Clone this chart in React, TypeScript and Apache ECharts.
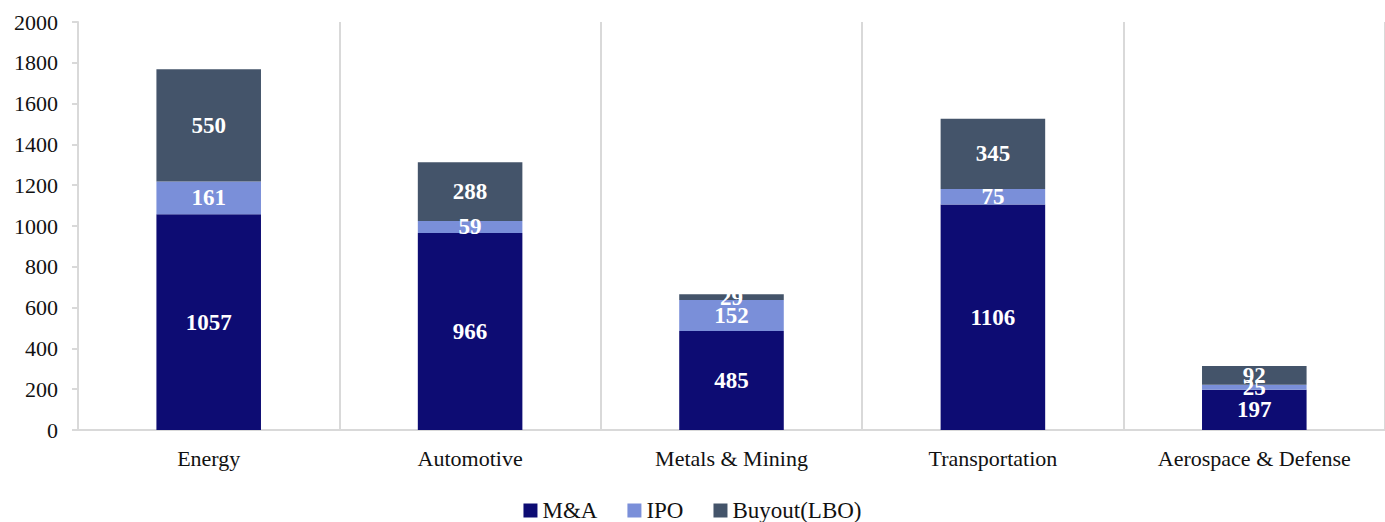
import React, { useEffect, useRef } from "react";
import * as echarts from "echarts";

const categories = ["Energy", "Automotive", "Metals & Mining", "Transportation", "Aerospace & Defense"];
const maValues = [1057, 966, 485, 1106, 197];
const ipoValues = [161, 59, 152, 75, 25];
const buyoutValues = [550, 288, 29, 345, 92];
const seriesNames = ["M&A", "IPO", "Buyout(LBO)"];
const colors = ["#0d0c73", "#7a8fd9", "#44546a"];

const FONT = "'Liberation Serif', 'Times New Roman', serif";

export default function App() {
  const ref = useRef<HTMLDivElement>(null);
  useEffect(() => {
    if (!ref.current) return;
    const chart = echarts.init(ref.current, null, { renderer: "svg" });
    const dataSets = [maValues, ipoValues, buyoutValues];
    chart.setOption({
      animation: false,
      textStyle: { fontFamily: FONT },
      grid: { left: 78, top: 22, width: 1310, height: 408, containLabel: false },
      legend: {
        top: 499,
        left: "center",
        padding: 0,
        itemWidth: 14,
        itemHeight: 14,
        itemGap: 30,
        icon: "rect",
        data: seriesNames,
        textStyle: { fontFamily: FONT, fontSize: 23, color: "#111111" },
      },
      xAxis: {
        type: "category",
        data: categories,
        boundaryGap: true,
        axisLine: { show: true, lineStyle: { color: "#d9d9d9", width: 2 } },
        axisTick: { show: false },
        splitLine: { show: true, lineStyle: { color: "#d9d9d9", width: 2 } },
        axisLabel: { fontFamily: FONT, fontSize: 22, color: "#111111", margin: 17 },
      },
      yAxis: {
        type: "value",
        min: 0,
        max: 2000,
        interval: 200,
        axisLine: { show: true, lineStyle: { color: "#d9d9d9", width: 2 } },
        axisTick: { show: true, length: 6, lineStyle: { color: "#d9d9d9", width: 2 } },
        splitLine: { show: false },
        axisLabel: {
          fontFamily: FONT,
          fontSize: 22,
          color: "#111111",
          margin: 20,
          formatter: (v: number) => String(v),
        },
      },
      series: seriesNames.map((name, i) => ({
        name,
        type: "bar",
        stack: "total",
        barWidth: "40%",
        data: dataSets[i],
        itemStyle: { color: colors[i] },
        label: {
          show: true,
          position: "inside",
          color: "#ffffff",
          fontFamily: FONT,
          fontWeight: "bold",
          fontSize: 23,
        },
      })),
    });
    return () => chart.dispose();
  }, []);
  return (
    <div
      ref={ref}
      style={{ position: "absolute", left: 0, top: 0, width: 1385, height: 522, background: "#ffffff" }}
    />
  );
}
